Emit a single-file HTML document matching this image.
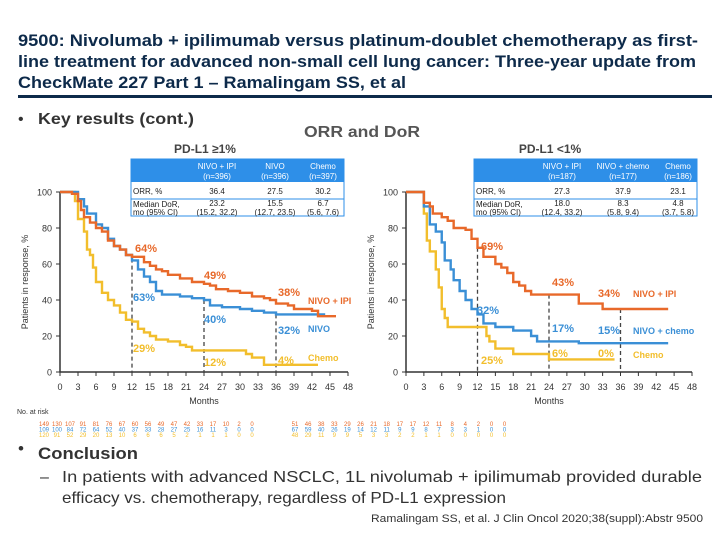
<!DOCTYPE html>
<html><head><meta charset="utf-8"><style>
body{margin:0;background:#fff;width:720px;height:540px;overflow:hidden;font-family:"Liberation Sans",sans-serif}
svg text{font-family:"Liberation Sans",sans-serif}
</style></head><body>
<svg id="s" width="720" height="540" viewBox="0 0 720 540">
<g fill="#0d2a4a" font-weight="bold" font-size="17">
<text x="18" y="46" textLength="680" lengthAdjust="spacingAndGlyphs">9500: Nivolumab + ipilimumab versus platinum-doublet chemotherapy as first-</text>
<text x="18" y="67" textLength="678" lengthAdjust="spacingAndGlyphs">line treatment for advanced non-small cell lung cancer: Three-year update from</text>
<text x="18" y="88" textLength="388" lengthAdjust="spacingAndGlyphs">CheckMate 227 Part 1 – Ramalingam SS, et al</text>
</g>
<rect x="18" y="95" width="694" height="3" fill="#0d2a4a"/>
<text x="18" y="124" font-size="16" fill="#333">•</text>
<text x="38" y="124" font-size="16" font-weight="bold" fill="#333" textLength="156" lengthAdjust="spacingAndGlyphs">Key results (cont.)</text>
<text x="362" y="137" font-size="16" font-weight="bold" fill="#555" text-anchor="middle" textLength="116" lengthAdjust="spacingAndGlyphs">ORR and DoR</text>
<text x="205" y="153" font-size="12" font-weight="bold" fill="#444" text-anchor="middle">PD-L1 ≥1%</text>
<text x="550" y="153" font-size="12" font-weight="bold" fill="#444" text-anchor="middle">PD-L1 &lt;1%</text>
<g id="g"></g>
<text x="18" y="454" font-size="17" fill="#333">•</text>
<text x="38" y="459" font-size="17" font-weight="bold" fill="#333" textLength="100" lengthAdjust="spacingAndGlyphs">Conclusion</text>
<text x="40" y="482" font-size="16" fill="#333">–</text>
<text x="62" y="482" font-size="16" fill="#333" textLength="640" lengthAdjust="spacingAndGlyphs">In patients with advanced NSCLC, 1L nivolumab + ipilimumab provided durable</text>
<text x="62" y="503" font-size="16" fill="#333" textLength="444" lengthAdjust="spacingAndGlyphs">efficacy vs. chemotherapy, regardless of PD-L1 expression</text>
<text x="703" y="522" font-size="11" fill="#333" text-anchor="end" textLength="332" lengthAdjust="spacingAndGlyphs">Ramalingam SS, et al. J Clin Oncol 2020;38(suppl):Abstr 9500</text>
</svg>
<script>
const leftIpi=[[0,100],[1.5,100],[2,99],[3,95],[3.5,90],[4,86],[5,83],[6,80],[7,78],[8,73],[9,70],[10,68],[11,65],[12,64],[14,61],[15,59],[16,57],[17,56],[18,54],[20,52],[22,50],[24,49],[25,48],[26,46],[28,45],[30,44],[32,42],[34,41],[35,40],[36,38],[38,37],[39,35],[42,34],[43,31],[46,31]];
const leftNivo=[[0,100],[2,100],[3,96],[4,92],[4.5,88],[5.5,88],[6,82],[7,80],[8,74],[9,70],[10,68],[11,65],[12,62],[13,57],[14,53],[15,50],[16,45],[17,43],[20,42],[22,41],[24,40],[25,37],[27,36],[30,35],[32,34],[34,33],[36,32],[42,32],[44,31]];
const leftChemo=[[0,100],[2,100],[2.5,95],[3,85],[4,78],[4.5,68],[5,65],[5.5,58],[6,50],[7,44],[8,40],[9,37],[10,33],[11,29],[12,28],[13,24],[14,22],[15,20],[16,18],[18,17],[20,15],[21,14],[22,12],[30,12],[31,10],[32,8],[34,7],[34,4],[43,4]];
const rightIpi=[[0,100],[2.5,100],[3,94],[4,92],[4.5,88],[6,86],[7,84],[8,80],[10,79],[11,74],[12,69],[13,64],[15,60],[16,58],[17,55],[18,50],[19,48],[20,45],[21,43],[29,43],[29,38],[33,37],[33,35],[44,35]];
const rightNivoChemo=[[0,100],[2.5,100],[3,92],[4,82],[5,78],[6,72],[6.5,62],[7.5,57],[8,51],[9,45],[10,40],[11,35],[12,32],[13,27],[15,25],[17,25],[18,23],[21,20],[22,17],[29,17],[29,16],[44,16]];
const rightChemo=[[0,100],[2,100],[3,88],[3.5,73],[4,67],[5,57],[5.5,47],[6,35],[6.5,30],[7,25],[13,25],[13.5,20],[14,17],[15,13],[17,13],[18,10],[24,10],[24,7],[35,7]];
const xTicks=[0,3,6,9,12,15,18,21,24,27,30,33,36,39,42,45,48];
const yTicks=[0,20,40,60,80,100];
const riskLeft=[[149,130,107,91,81,76,67,60,56,49,47,42,33,17,10,2,0],[109,100,84,72,64,52,40,37,33,28,27,25,16,11,3,0,0],[120,91,52,29,20,13,10,6,6,6,5,2,1,1,1,0,0]];
const riskRight=[[51,46,38,33,29,26,21,18,17,17,12,11,8,4,2,0,0],[67,59,40,26,19,14,12,11,9,9,8,7,3,3,1,0,0],[48,29,11,9,9,5,3,3,2,2,1,1,0,0,0,0,0]];
const leftTable={heads:["NIVO + IPI|(n=396)","NIVO|(n=396)","Chemo|(n=397)"],orr:["36.4","27.5","30.2"],dor:["23.2|(15.2, 32.2)","15.5|(12.7, 23.5)","6.7|(5.6, 7.6)"]};
const rightTable={heads:["NIVO + IPI|(n=187)","NIVO + chemo|(n=177)","Chemo|(n=186)"],orr:["27.3","37.9","23.1"],dor:["18.0|(12.4, 33.2)","8.3|(5.8, 9.4)","4.8|(3.7, 5.8)"]};
const C={o:"#e8692a",b:"#3a8fd6",y:"#f2be2c"};
const NS="http://www.w3.org/2000/svg",G=document.getElementById('g');
function el(t,a,p){const e=document.createElementNS(NS,t);for(const k in a)e.setAttribute(k,a[k]);(p||G).appendChild(e);return e;}
function panel(cfg){
 const g=el('g',{});
 
 
 const X=m=>cfg.x0+(cfg.x1-cfg.x0)*m/48, Y=v=>372-1.8*v;
 // axes
 const ax=el('path',{d:`M${cfg.x0} 192V372H${cfg.x1}`,stroke:"#333","stroke-width":1.5,fill:"none"},g);
 
 
 yTicks.forEach(v=>{el('line',{x1:cfg.x0-4,x2:cfg.x0,y1:Y(v),y2:Y(v),stroke:"#333"},g);
  const t=el('text',{x:cfg.x0-8,y:Y(v)+3.5,"font-size":9,"text-anchor":"end",fill:"#333"},g);t.textContent=v;
  
  });
 xTicks.forEach(m=>{el('line',{x1:X(m),x2:X(m),y1:372,y2:376,stroke:"#333"},g);
  const t=el('text',{x:X(m),y:390,"font-size":9,"text-anchor":"middle",fill:"#333"},g);t.textContent=m;
  
  });
 const xt=el('text',{x:(cfg.x0+cfg.x1)/2,y:404,"font-size":9,"text-anchor":"middle",fill:"#333"},g);xt.textContent="Months";
 
 
 const yt=el('text',{x:0,y:0,"font-size":9,"text-anchor":"middle",fill:"#333",transform:`translate(${cfg.x0-32},282) rotate(-90)`},g);yt.textContent="Patients in response, %";
 
 
 // dashed
 cfg.dash.forEach(d=>{const l=el('line',{x1:X(d[0]),x2:X(d[0]),y1:Y(d[1]),y2:372,stroke:"#444","stroke-width":1.3,"stroke-dasharray":"4,3"},g);
  
  });
 // curves
 cfg.series.forEach(s=>{let d=`M${X(s.d[0][0])} ${Y(s.d[0][1])}`;
  for(let i=1;i<s.d.length;i++)d+=`H${X(s.d[i][0])}V${Y(s.d[i][1])}`;
  const p=el('path',{d,stroke:s.c,"stroke-width":2.4,fill:"none"},g);
  
  });
 cfg.labels.forEach(l=>{const t=el('text',{x:l[0],y:l[1],"font-size":l[4]||11,"font-weight":"bold",fill:l[3]},g);t.textContent=l[2];
  
  });
 // risk
 cfg.risk.forEach((row,r)=>row.forEach((v,i)=>{const t=el('text',{x:cfg.rx+i*cfg.rs,y:426+r*5.5,"font-size":6,"text-anchor":"middle",fill:[C.o,C.b,C.y][r]},g);t.textContent=v;
  
  }));
 // table
 const T=cfg.t,tb=el('g',{},g);
 
 
 el('rect',{x:T.x,y:159,width:T.w,height:57,fill:"#fff",stroke:"#2e8fe8"},tb);
 el('rect',{x:T.x,y:159,width:T.w,height:23,fill:"#2e8fe8"},tb);
 el('line',{x1:T.x,x2:T.x+T.w,y1:199,y2:199,stroke:"#2e8fe8"},tb);
 const tx=(x,y,s,c,a)=>{const t=el('text',{x,y,"font-size":8,fill:c,"text-anchor":a||"middle"},tb);t.textContent=s;};
 T.data.heads.forEach((h,i)=>{const p=h.split('|');tx(T.cols[i],169,p[0],"#fff");tx(T.cols[i],179,p[1],"#fff");});
 tx(T.x+2,194,"ORR, %","#222","start");tx(T.x+2,207,"Median DoR,","#222","start");tx(T.x+2,215,"mo (95% CI)","#222","start");
 T.data.orr.forEach((v,i)=>tx(T.cols[i],194,v,"#222"));
 T.data.dor.forEach((v,i)=>{const p=v.split('|');tx(T.cols[i],206,p[0],"#222");tx(T.cols[i],215,p[1],"#222");});
}
panel({name:"left-km-chart",x0:60,x1:348,rx:44,rs:13,risk:riskLeft,dash:[[12,63],[24,40],[36,32]],
 series:[{d:leftChemo,c:C.y,n:"chemo-curve"},{d:leftNivo,c:C.b,n:"nivo-curve"},{d:leftIpi,c:C.o,n:"nivo-ipi-curve"}],
 labels:[[135,252,"64%",C.o],[204,279,"49%",C.o],[278,296,"38%",C.o],[133,301,"63%",C.b],[204,323,"40%",C.b],[278,334,"32%",C.b],[133,352,"29%",C.y],[204,366,"12%",C.y],[278,364,"4%",C.y],[308,304,"NIVO + IPI",C.o,9],[308,332,"NIVO",C.b,9],[308,361,"Chemo",C.y,9]],
 t:{x:131,w:213,cols:[217,275,323],data:leftTable}});
panel({name:"right-km-chart",x0:406,x1:692,rx:295,rs:13.1,risk:riskRight,dash:[[12,69],[24,43],[36,35]],
 series:[{d:rightChemo,c:C.y,n:"chemo-curve"},{d:rightNivoChemo,c:C.b,n:"nivo-chemo-curve"},{d:rightIpi,c:C.o,n:"nivo-ipi-curve"}],
 labels:[[481,250,"69%",C.o],[552,286,"43%",C.o],[598,297,"34%",C.o],[477,314,"32%",C.b],[552,332,"17%",C.b],[598,334,"15%",C.b],[481,364,"25%",C.y],[552,357,"6%",C.y],[598,357,"0%",C.y],[633,297,"NIVO + IPI",C.o,9],[633,334,"NIVO + chemo",C.b,9],[633,358,"Chemo",C.y,9]],
 t:{x:474,w:223,cols:[562,623,678],data:rightTable}});
const nr=el('text',{x:17,y:414,"font-size":7,fill:"#333"});nr.textContent="No. at risk";


</script>
</body></html>
